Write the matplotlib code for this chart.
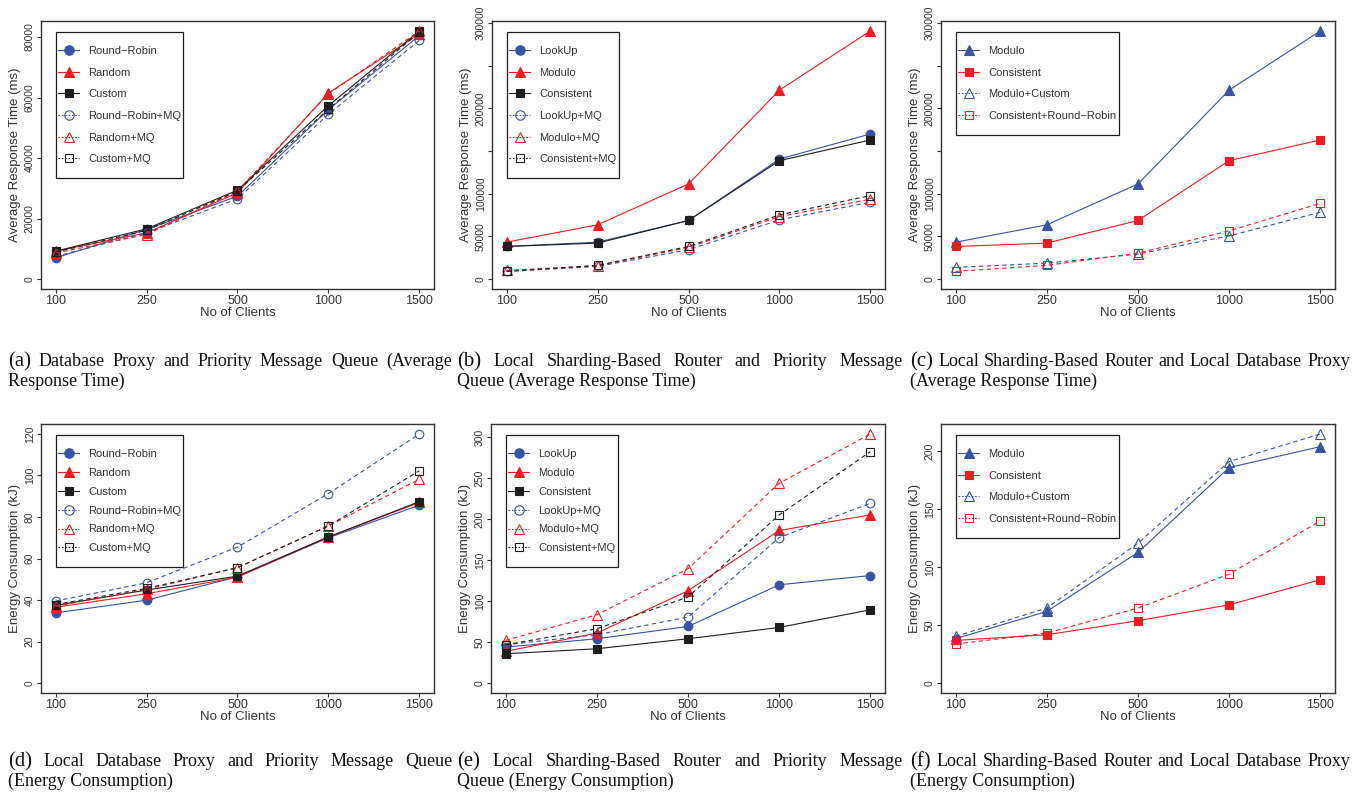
import numpy as np
import matplotlib
matplotlib.use("Agg")
import matplotlib.pyplot as plt
from matplotlib.lines import Line2D
from matplotlib.path import Path

SANS = "Liberation Sans"
SERIF = "Liberation Serif"
plt.rcParams['font.family'] = [SANS, 'DejaVu Sans']

BLUE = "#3953A4"
RED = "#EE1D23"
BLACK = "#1E1E1E"
GREY = "#333333"

clients = ["100", "250", "500", "1000", "1500"]

# ---- (a) database proxy + priority MQ, response time (ms)
names_a = ["Round\u2212Robin", "Random", "Custom", "Round\u2212Robin+MQ", "Random+MQ", "Custom+MQ"]
a_rr = [7000, 16400, 27400, 56000, 80500]
a_random = [9200, 15300, 28500, 61500, 81000]
a_custom = [9200, 16600, 29400, 57300, 82000]
a_rr_mq = [7500, 15300, 26500, 54500, 78900]
a_random_mq = [8600, 14700, 29100, 61200, 82000]
a_custom_mq = [8900, 16100, 29100, 56200, 81600]

# ---- (b) sharding router + priority MQ, response time (ms)
names_b = ["LookUp", "Modulo", "Consistent", "LookUp+MQ", "Modulo+MQ", "Consistent+MQ"]
b_lookup = [38200, 43200, 68600, 140600, 169900]
b_modulo = [43200, 63500, 111400, 221300, 290600]
b_consistent = [38200, 42100, 68600, 138700, 162900]
b_lookup_mq = [9000, 14800, 34300, 69300, 90000]
b_modulo_mq = [10100, 15600, 37000, 73200, 93500]
b_consistent_mq = [9000, 16000, 38200, 75200, 97800]

# ---- (c) sharding router + database proxy, response time (ms)
names_c = ["Modulo", "Consistent", "Modulo+Custom", "Consistent+Round\u2212Robin"]
c_modulo = [43200, 63500, 111400, 221300, 290600]
c_consistent = [38200, 42100, 68600, 138700, 162900]
c_modulo_custom = [13600, 18700, 29200, 50600, 78300]
c_consistent_rr = [9000, 16000, 30400, 56500, 88800]

# ---- (d) energy (kJ)
d_rr = [33.8, 39.9, 51.2, 70.0, 85.7]
d_random = [36.5, 43.0, 51.0, 70.4, 87.0]
d_custom = [37.4, 44.8, 51.5, 70.4, 87.4]
d_rr_mq = [39.5, 48.3, 65.5, 91.3, 120.0]
d_random_mq = [37.0, 45.1, 55.6, 75.7, 98.2]
d_custom_mq = [37.8, 45.6, 55.6, 75.7, 102.3]

# ---- (e) energy (kJ)
e_lookup = [43.8, 54.0, 69.0, 119.8, 131.1]
e_modulo = [38.6, 60.9, 112.5, 186.0, 205.0]
e_consistent = [35.7, 41.8, 54.0, 67.8, 89.3]
e_lookup_mq = [46.7, 58.9, 80.4, 177.4, 219.2]
e_modulo_mq = [52.0, 83.2, 139.3, 243.6, 303.7]
e_consistent_mq = [46.7, 66.2, 104.8, 205.0, 282.2]

# ---- (f) energy (kJ)
f_modulo = [38.2, 61.7, 112.5, 185.7, 203.7]
f_consistent = [36.7, 41.6, 53.7, 67.4, 89.0]
f_modulo_custom = [40.2, 64.6, 120.5, 190.8, 214.6]
f_consistent_rr = [33.6, 43.0, 64.6, 93.8, 139.7]

style6 = [("o", BLUE, True), ("^", RED, True), ("s", BLACK, True),
          ("o", BLUE, False), ("^", RED, False), ("s", BLACK, False)]
style4 = [("^", BLUE, True), ("s", RED, True), ("^", BLUE, False), ("s", RED, False)]
msize = {"o": 6.2, "^": 6.6, "s": 5.8}

W, H = 1359, 795
fig = plt.figure(figsize=(W / 100, H / 100), dpi=100)

RT = "Average Response Time (ms)"
EN = "Energy Consumption (kJ)"
panels = [
    ((41, 21, 434, 289), RT, names_a, [a_rr, a_random, a_custom, a_rr_mq, a_random_mq, a_custom_mq], style6,
     [0, 20000, 40000, 60000, 80000], None, 0.8),
    ((492, 21, 885, 289), RT, names_b, [b_lookup, b_modulo, b_consistent, b_lookup_mq, b_modulo_mq, b_consistent_mq], style6,
     [0, 50000, 100000, 150000, 200000, 250000, 300000], ["0", "50000", "100000", "", "200000", "", "300000"], 0.8),
    ((941, 21, 1335, 289), RT, names_c, [c_modulo, c_consistent, c_modulo_custom, c_consistent_rr], style4,
     [0, 50000, 100000, 150000, 200000, 250000, 300000], ["0", "50000", "100000", "", "200000", "", "300000"], 0.8),
    ((41, 424, 434, 693), EN, names_a, [d_rr, d_random, d_custom, d_rr_mq, d_random_mq, d_custom_mq], style6,
     [0, 20, 40, 60, 80, 100, 120], None, 0.55),
    ((491, 424, 885, 693), EN, names_b, [e_lookup, e_modulo, e_consistent, e_lookup_mq, e_modulo_mq, e_consistent_mq], style6,
     [0, 50, 100, 150, 200, 250, 300], None, 0.55),
    ((941, 424, 1335, 693), EN, names_c, [f_modulo, f_consistent, f_modulo_custom, f_consistent_rr], style4,
     [0, 50, 100, 150, 200], None, 0.8),
]


def tall_box(x0, y0, width, height, mutation_size):
    p = 1.05 * mutation_size
    return Path([(x0, y0 - p), (x0 + width, y0 - p), (x0 + width, y0 + height + p),
                 (x0, y0 + height + p), (x0, y0 - p)], closed=True)


x = np.arange(1, len(clients) + 1)
for (l, t, r, b), ylab, names, series, styles, yt, ytl, lspace in panels:
    ax = fig.add_axes([l / W, 1 - b / H, (r - l) / W, (b - t) / H])
    handles = []
    for name, vals, (mk, col, filled) in zip(names, series, styles):
        ls = (0, (4, 3)) if not filled else "-"
        ax.plot(x, vals, color=col, lw=0.8, linestyle=ls, marker=mk, ms=msize[mk],
                mfc=col if filled else "none", mec=col, mew=0.8)
        handles.append(Line2D([], [], color=col, lw=0.8, linestyle="-" if filled else (0, (1.5, 1.5)),
                              marker=mk, ms=msize[mk] + 0.6, mfc=col if filled else "none", mec=col, mew=0.8))
    top = max(max(s) for s in series)
    ax.set_ylim(-0.04 * top, 1.04 * top)
    ax.set_xlim(0.84, 5.16)
    ax.set_xticks(x, clients)
    ax.set_yticks(yt, ytl if ytl is not None else [str(v) for v in yt])
    ax.tick_params(axis="y", labelrotation=90, labelsize=7.5, length=3, width=0.8, pad=1.5,
                   colors=GREY)
    ax.tick_params(axis="x", labelsize=9, length=3, width=0.8, pad=1, colors=GREY)
    for lbl in ax.get_yticklabels():
        lbl.set_va("center")
    for sp in ax.spines.values():
        sp.set_linewidth(1.0)
        sp.set_color(GREY)
    ax.set_xlabel("No of Clients", fontsize=9.5, color=GREY)
    ax.set_ylabel(ylab, fontsize=9.5, color=GREY)
    ax.xaxis.set_label_coords(0.5, -18 / (b - t))
    ax.yaxis.set_label_coords(-20 / (r - l), 0.5)
    pad_px = 1.05 * 8 * 100 / 72
    leg = ax.legend(handles, names, loc="upper left", fontsize=8,
                    bbox_to_anchor=(15 / (r - l), 1 - (11 + pad_px) / (b - t)),
                    borderaxespad=0, borderpad=0.2, labelspacing=lspace + 0.25,
                    handlelength=1.9, handletextpad=0.8, fancybox=False,
                    edgecolor=BLACK, framealpha=1)
    leg.get_frame().set_linewidth(0.9)
    leg.get_frame().set_boxstyle(tall_box)
    for txt in leg.get_texts():
        txt.set_color(GREY)

# ---- captions (serif, justified first line)
caps = [
    (8, 452, 366, "(a)", "Database Proxy and Priority Message Queue (Average", "Response Time)"),
    (457, 903, 366, "(b)", "Local Sharding-Based Router and Priority Message", "Queue (Average Response Time)"),
    (910, 1350, 366, "(c)", "Local Sharding-Based Router and Local Database Proxy", "(Average Response Time)"),
    (8, 452, 766, "(d)", "Local Database Proxy and Priority Message Queue", "(Energy Consumption)"),
    (457, 903, 766, "(e)", "Local Sharding-Based Router and Priority Message", "Queue (Energy Consumption)"),
    (910, 1350, 766, "(f)", "Local Sharding-Based Router and Local Database Proxy", "(Energy Consumption)"),
]
renderer = fig.canvas.get_renderer()
for x0, x1, yb, tag, line1, line2 in caps:
    words = [tag] + line1.split()
    size = 13.0
    while True:
        objs = [fig.text(0, 0, w, fontsize=size * (1.15 if i == 0 else 1.0), family=SERIF,
                         va="baseline", color="#111111") for i, w in enumerate(words)]
        widths = [o.get_window_extent(renderer).width for o in objs]
        gap = (x1 - x0 - sum(widths)) / (len(words) - 1)
        if gap >= 3.0 or size < 9:
            break
        for o in objs:
            o.remove()
        size -= 0.25
    pos = x0
    for o, w in zip(objs, widths):
        o.set_position((pos / W, 1 - yb / H))
        pos += w + gap
    fig.text(x0 / W, 1 - (yb + 20) / H, line2, fontsize=size, family=SERIF, va="baseline", color="#111111")

fig.savefig("out.png", dpi=100)
